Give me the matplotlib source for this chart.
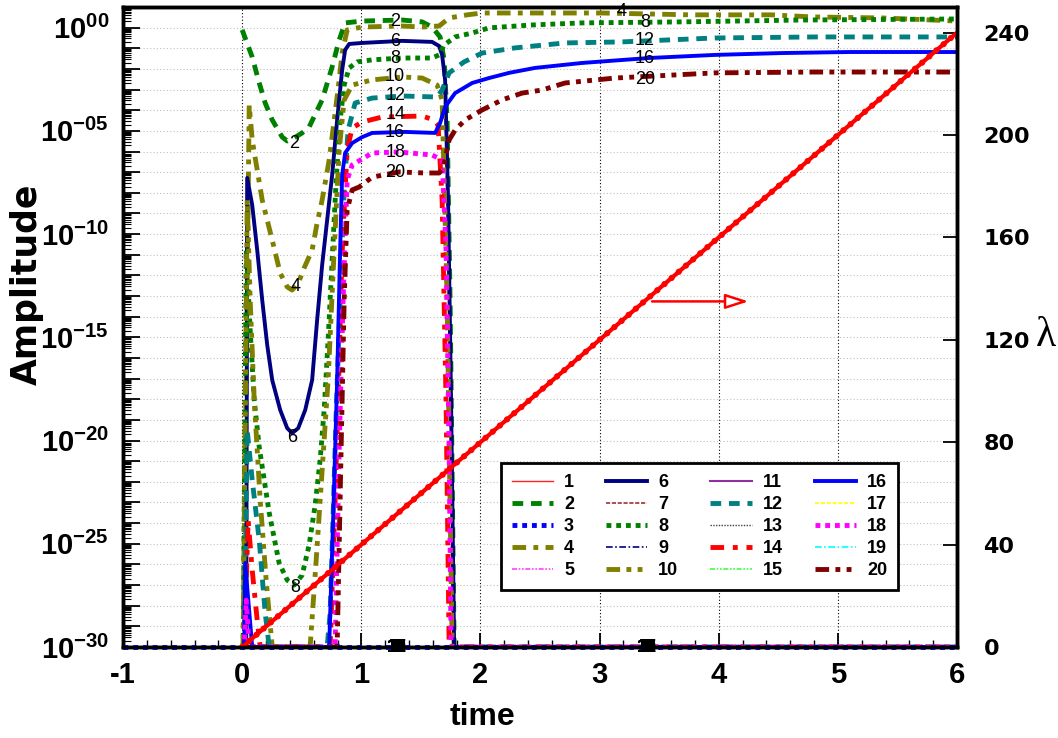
import math
import matplotlib
matplotlib.use('Agg')
import matplotlib.pyplot as plt
import matplotlib.ticker as mticker
from matplotlib import font_manager

# ---- data: time and log10(amplitude) for each visible curve ----
t_floor = [-1.0, 6.0]
e_floor = [-30.0, -30.0]

t2 = [0.0, 0.084, 0.143, 0.193, 0.252, 0.336, 0.378, 0.436, 0.503, 0.562, 0.671, 0.755, 0.814, 0.864,
      1.007, 1.342, 1.510, 1.594, 1.661, 1.695, 1.720, 1.745, 1.779, 6.0]
e2 = [-0.11, -1.42, -2.68, -3.65, -4.47, -5.30, -5.49, -5.34, -5.10, -4.81, -3.50, -1.90, -0.60, 0.23,
      0.32, 0.37, 0.28, 0.03, -0.45, -1.56, -4.47, -13.19, -30.0, -30.0]

t4 = [0.0, 0.008, 0.059, 0.084, 0.126, 0.168, 0.252, 0.319, 0.378, 0.419, 0.470, 0.520, 0.587, 0.629,
      0.671, 0.730, 0.780, 0.814, 0.839, 0.881, 1.007, 1.342, 1.510, 1.653, 1.737, 1.888, 2.013, 3.020,
      3.775, 4.446, 4.782, 5.369, 6.0]
e4 = [-30.0, -30.0, -3.75, -5.44, -6.89, -8.35, -10.29, -11.89, -12.56, -12.71, -12.38, -11.64, -10.77, -9.46,
      -8.35, -6.41, -4.13, -2.53, -1.23, -0.11, 0.03, 0.08, 0.03, 0.08, 0.47, 0.62, 0.71, 0.71,
      0.62, 0.62, 0.52, 0.47, 0.32]

t6 = [0.0, 0.034, 0.042, 0.084, 0.126, 0.168, 0.210, 0.252, 0.319, 0.378, 0.419, 0.470, 0.529, 0.587,
      0.629, 0.671, 0.713, 0.755, 0.797, 0.839, 0.864, 0.898, 1.007, 1.342, 1.594, 1.653, 1.678, 1.703,
      1.728, 1.753, 1.779, 6.0]
e6 = [-30.0, -30.0, -7.28, -8.59, -10.77, -13.19, -15.37, -17.07, -18.52, -19.40, -19.64, -19.40, -18.52, -17.07,
      -14.16, -11.50, -9.32, -7.14, -4.47, -2.05, -1.08, -0.79, -0.74, -0.64, -0.69, -0.89, -1.32, -2.53,
      -8.35, -18.04, -30.0, -30.0]

t8 = [0.0, 0.008, 0.034, 0.067, 0.101, 0.143, 0.227, 0.310, 0.378, 0.436, 0.503, 0.562, 0.612, 0.654,
      0.688, 0.721, 0.755, 0.789, 0.822, 0.856, 0.898, 0.965, 1.091, 1.342, 1.594, 1.653, 1.695, 1.787,
      1.930, 2.072, 2.433, 2.852, 3.691, 4.698, 6.0]
e8 = [-30.0, -30.0, -10.77, -14.65, -18.04, -20.32, -23.51, -25.93, -26.76, -27.00, -26.52, -25.06, -23.13, -20.95,
      -18.52, -15.13, -11.26, -7.38, -4.47, -2.78, -1.95, -1.66, -1.56, -1.47, -1.47, -1.32, -0.84, -0.45,
      -0.26, -0.01, 0.13, 0.23, 0.28, 0.37, 0.42]

t10 = [0.0, 0.008, 0.042, 0.067, 0.101, 0.151, 0.201, 0.252, 0.570, 0.621, 0.671, 0.721, 0.772, 0.814,
       0.856, 0.923, 1.091, 1.342, 1.510, 1.636, 1.678, 1.720, 1.762, 6.0]
e10 = [-30.0, -30.0, -8.35, -13.19, -18.04, -22.88, -26.76, -30.0, -30.0, -25.79, -21.43, -17.07, -10.77, -5.93,
       -3.50, -2.78, -2.53, -2.39, -2.44, -2.78, -3.50, -13.19, -30.0, -30.0]

t12 = [0.0, 0.017, 0.042, 0.084, 0.143, 0.193, 0.227, 0.713, 0.738, 0.755, 0.772, 0.789, 0.822, 0.856,
       0.889, 0.948, 1.091, 1.342, 1.636, 1.678, 1.737, 1.862, 2.013, 2.290, 2.710, 3.188, 3.968, 4.807, 6.0]
e12 = [-30.0, -30.0, -19.49, -21.91, -24.82, -28.36, -30.0, -30.0, -28.36, -25.16, -21.91, -18.67, -13.19, -7.86,
       -4.96, -3.65, -3.41, -3.31, -3.36, -3.02, -2.19, -1.66, -1.23, -0.98, -0.74, -0.69, -0.50, -0.45, -0.45]

t14 = [0.0, 0.017, 0.050, 0.084, 0.126, 0.151, 0.738, 0.772, 0.805, 0.839, 0.881, 0.923, 1.007, 1.174,
       1.510, 1.611, 1.644, 1.678, 1.711, 1.737, 6.0]
e14 = [-30.0, -30.0, -23.85, -26.27, -28.70, -30.0, -30.0, -24.33, -18.04, -10.77, -5.93, -4.86, -4.57, -4.33,
       -4.28, -4.47, -4.71, -8.35, -18.04, -30.0, -30.0]

t16 = [0.0, 0.017, 0.025, 0.084, 0.730, 0.763, 0.797, 0.822, 0.839, 0.864, 0.923, 1.007, 1.091, 1.367,
       1.619, 1.661, 1.703, 1.787, 1.930, 2.072, 2.240, 2.458, 2.852, 3.414, 3.968, 4.530, 5.092, 6.0]
e16 = [-30.0, -30.0, -25.93, -30.0, -30.0, -23.85, -17.07, -10.77, -7.14, -6.07, -5.59, -5.30, -5.10, -5.05,
       -5.10, -4.62, -3.84, -3.17, -2.68, -2.44, -2.19, -1.95, -1.71, -1.47, -1.32, -1.23, -1.18, -1.18]

t18 = [0.0, 0.017, 0.034, 0.059, 0.780, 0.814, 0.847, 0.881, 0.923, 1.091, 1.317, 1.594, 1.678, 1.711,
       1.737, 1.753, 6.0]
e18 = [-30.0, -30.0, -27.73, -30.0, -30.0, -20.46, -13.19, -7.38, -6.65, -6.07, -6.02, -6.17, -6.41, -10.77,
       -20.46, -30.0, -30.0]

t20 = [0.0, 0.797, 0.830, 0.856, 0.881, 0.923, 0.982, 1.091, 1.317, 1.535, 1.653, 1.686, 1.737, 1.787,
       1.871, 2.013, 2.181, 2.349, 2.517, 2.710, 3.129, 3.968, 4.807, 6.0]
e20 = [-30.0, -30.0, -20.46, -13.19, -8.83, -7.86, -7.72, -7.24, -6.99, -7.04, -7.04, -6.80, -5.44, -4.96,
       -4.47, -3.99, -3.50, -3.17, -3.02, -2.68, -2.44, -2.19, -2.15, -2.15]

# lambda (right axis)
t_lam = [0.0, 6.0]
lam = [0.0, 240.0]

# inline curve labels: (text, time, log10 amplitude)
curve_labels = [('2', 0.436, -5.59), ('4', 0.445, -12.52), ('6', 0.419, -19.83), ('8', 0.445, -27.10),
                ('2', 1.284, 0.28), ('6', 1.284, -0.69), ('8', 1.284, -1.47), ('10', 1.284, -2.39),
                ('12', 1.284, -3.31), ('14', 1.284, -4.23), ('16', 1.284, -5.10), ('18', 1.284, -6.07),
                ('20', 1.284, -7.04),
                ('4', 3.188, 0.76), ('8', 3.381, 0.23), ('12', 3.381, -0.60), ('16', 3.381, -1.47),
                ('20', 3.381, -2.53)]
floor_label_t = [1.30, 3.40]
odd_ids = [1, 3, 5, 7, 9, 11, 13, 15, 17, 19]

x_ticks = [-1, 0, 1, 2, 3, 4, 5, 6]
lam_ticks = [0, 40, 80, 120, 160, 200, 240]

curves = {2: (t2, e2), 4: (t4, e4), 6: (t6, e6), 8: (t8, e8), 10: (t10, e10),
          12: (t12, e12), 14: (t14, e14), 16: (t16, e16), 18: (t18, e18), 20: (t20, e20)}

W = 3.5  # thick line width
styles = {
    1: dict(color='#ff2020', lw=1.0, ls='-'),
    2: dict(color='#008000', lw=W, ls=(0, (2.2, 1.6))),
    3: dict(color='#0000ff', lw=W, ls=(0, (1, 1))),
    4: dict(color='#808000', lw=W, ls=(0, (2.8, 1.5, 1.0, 1.5))),
    5: dict(color='#ff40ff', lw=1.2, ls=(0, (3, 1, 1, 1, 1, 1))),
    6: dict(color='#000080', lw=2.8, ls='-'),
    7: dict(color='#a03030', lw=1.2, ls=(0, (2.5, 1))),
    8: dict(color='#008000', lw=W, ls=(0, (1, 1))),
    9: dict(color='#000080', lw=1.2, ls=(0, (4, 1.5, 1, 1.5))),
    10: dict(color='#808000', lw=W, ls=(0, (2.8, 1.3, 1.0, 1.3, 1.0, 1.3))),
    11: dict(color='#9030a0', lw=1.5, ls='-'),
    12: dict(color='#008080', lw=W, ls=(0, (2.2, 1.6))),
    13: dict(color='#404040', lw=1.0, ls=(0, (1, 1))),
    14: dict(color='#ff0000', lw=W, ls=(0, (2.8, 1.8, 1.0, 1.8))),
    15: dict(color='#40ff40', lw=1.2, ls=(0, (3, 1, 1, 1, 1, 1))),
    16: dict(color='#0000ff', lw=2.8, ls='-'),
    17: dict(color='#ffff00', lw=1.2, ls=(0, (2.5, 1))),
    18: dict(color='#ff00ff', lw=W, ls=(0, (1, 1))),
    19: dict(color='#00ffff', lw=1.2, ls=(0, (4, 1.5, 1, 1.5))),
    20: dict(color='#800000', lw=W, ls=(0, (2.8, 1.3, 1.0, 1.3, 1.0, 1.3))),
}

names = {f.name for f in font_manager.fontManager.ttflist}
narrow = 'Liberation Sans Narrow' if 'Liberation Sans Narrow' in names else 'Liberation Sans'
plt.rcParams['mathtext.fontset'] = 'custom'
plt.rcParams['mathtext.bf'] = narrow + ':bold'
plt.rcParams['mathtext.rm'] = narrow
plt.rcParams['axes.unicode_minus'] = False

fig = plt.figure(figsize=(10.58, 7.38), dpi=100)
ax = fig.add_axes([0.1163, 0.1233, 0.7883, 0.8672])
ax.set_yscale('log')
ax.set_xlim(-1, 6)
ax.set_ylim(1e-30, 1e1)

handles = {}
for k in odd_ids:
    st = styles[k]
    ln, = ax.plot(t_floor, [10.0 ** v for v in e_floor], color=st['color'], lw=st['lw'],
                  linestyle=st['ls'], clip_on=False, zorder=2.6)
    handles[k] = ln
for k in sorted(curves):
    st = styles[k]
    tt, ee = curves[k]
    ln, = ax.plot(tt, [10.0 ** v for v in ee], color=st['color'], lw=st['lw'], linestyle=st['ls'])
    handles[k] = ln

for s, tx, ev in curve_labels:
    ax.text(tx, 10.0 ** ev, s, ha='center', va='center', fontsize=13, family='Liberation Sans', zorder=5)
for tx in floor_label_t:
    for k in odd_ids:
        ax.text(tx, 1e-30, str(k), ha='center', va='center', fontsize=13, weight='bold',
                family='Liberation Sans', zorder=5, clip_on=False)

# axes styling
ax.xaxis.set_major_locator(mticker.FixedLocator(x_ticks))
ax.xaxis.set_minor_locator(mticker.MultipleLocator(0.2))
ax.yaxis.set_major_locator(mticker.FixedLocator([10.0 ** k for k in range(-30, 1)]))
ax.yaxis.set_minor_locator(mticker.FixedLocator([m * 10.0 ** k for k in range(-30, 1) for m in range(2, 10)]))


def ylab(v, pos):
    k = int(round(math.log10(v)))
    if k % 5:
        return ''
    return r'$\mathbf{10^{%s}}$' % ('%03d' % k if k < 0 else '00')


ax.yaxis.set_major_formatter(mticker.FuncFormatter(ylab))
ax.yaxis.set_minor_formatter(mticker.NullFormatter())
ax.tick_params(axis='x', which='major', direction='in', length=10, width=1.3, pad=10, labelsize=21)
ax.tick_params(axis='x', which='minor', direction='in', length=5, width=1.0)
ax.tick_params(axis='y', which='major', direction='in', length=12, width=1.3, pad=10, labelsize=21)
ax.tick_params(axis='y', which='minor', direction='in', length=6, width=0.8)
for lab in ax.get_xticklabels():
    lab.set_family(narrow)
    lab.set_weight('bold')
ax.set_axisbelow(True)
ax.yaxis.grid(True, which='major', color='#c0c0c0', linestyle=(0, (1, 2)), lw=0.8)
ax.xaxis.grid(True, which='major', color='black', linestyle=(0, (1, 2)), lw=0.8)
for sp in ax.spines.values():
    sp.set_linewidth(2.5)

ax2 = ax.twinx()
ax2.set_ylim(0, 250)
ax2.plot(t_lam, lam, color='#ff0000', lw=3.0, solid_capstyle='butt')
ax2.plot(t_lam, lam, color='#ff0000', lw=4.5, linestyle=(0, (0.01, 1.5)), dash_capstyle='round')
ax2.annotate('', xy=(4.25, 135), xytext=(3.44, 135),
             arrowprops=dict(arrowstyle='-|>,head_length=1.4,head_width=0.45', fc='white', ec='#ff0000',
                             lw=1.8, shrinkA=0, shrinkB=0))
ax2.set_yticks(lam_ticks)
ax2.set_yticklabels([str(v) for v in lam_ticks], family='DejaVu Sans', weight='bold', fontsize=16)
ax2.tick_params(axis='y', direction='in', length=10, width=1.3, pad=19)
for sp in ax2.spines.values():
    sp.set_linewidth(2.5)

order = list(range(1, 21))
leg = ax2.legend([handles[k] for k in order], [str(k) for k in order], ncol=4, loc='lower left',
                 bbox_to_anchor=(0.453, 0.089, 0.476, 0.205), mode='expand',
                 prop=dict(family='Liberation Sans', weight='bold', size=13),
                 handlelength=2.3, handletextpad=0.6, labelspacing=0.28, borderaxespad=0,
                 fancybox=False, edgecolor='black', framealpha=1, borderpad=0.6)
leg.get_frame().set_linewidth(2.0)

fig.text(27 / 1058, 1 - 284 / 738, 'Amplitude', rotation=90, ha='center', va='center',
         family='DejaVu Sans', weight='bold', fontsize=25)
fig.text(482 / 1058, 1 - 717 / 738, 'time', ha='center', va='center',
         family=narrow, weight='bold', fontsize=23)
fig.text(1046 / 1058, 1 - 336 / 738, 'λ', ha='center', va='center',
         family='Liberation Serif', fontsize=30)

fig.savefig('out.png', dpi=100)
